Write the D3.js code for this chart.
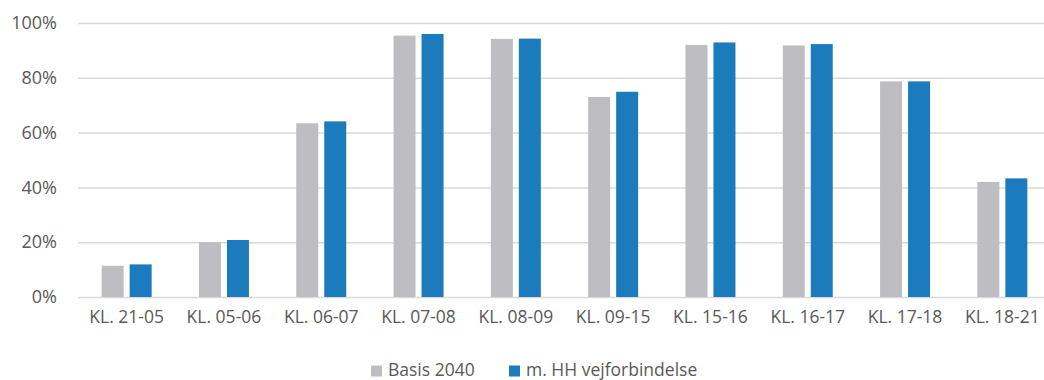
<!DOCTYPE html>
<html>
<head>
<meta charset="utf-8">
<script src="https://cdn.jsdelivr.net/npm/d3@7/dist/d3.min.js"></script>
<style>
	body { margin: 0; background: #fff; }
	text { font-family: "Open Sans", "DejaVu Sans", sans-serif; fill: #595959; }
</style>
</head>
<body>
<div id="graph"></div>
<script>
let width = 1044;
let height = 380;

// Plot area (right edge runs past the picture, as in the original crop)
let padding = {
	top: 23,
	left: 78,
	right: 1051,
	bottom: 297
	};

let categories = ["KL. 21-05", "KL. 05-06", "KL. 06-07", "KL. 07-08", "KL. 08-09",
	"KL. 09-15", "KL. 15-16", "KL. 16-17", "KL. 17-18", "KL. 18-21"];
let seriesNames = ["Basis 2040", "m. HH vejforbindelse"];
let basis = [0.114, 0.200, 0.634, 0.954, 0.942, 0.730, 0.920, 0.918, 0.787, 0.420];
let hhVej = [0.119, 0.208, 0.641, 0.960, 0.943, 0.749, 0.929, 0.923, 0.787, 0.433];
let yTicks = [0, 0.2, 0.4, 0.6, 0.8, 1.0];
let colours = ["#bebec2", "#1c7bbd"];

let seriesValues = [basis, hhVej];

let svg = d3.select("#graph")
	.append("svg")
		.attr("width", width)
		.attr("height", height)
	;

let xScale = d3.scaleBand()
	.domain(categories)
	.range([padding.left, padding.right])
	;

// 22px bars with 6px gap inside each group
let groupWidth = 50;
let xInner = d3.scaleBand()
	.domain(seriesNames)
	.range([0, groupWidth])
	.paddingInner(6 / 28)
	;

let yScale = d3.scaleLinear()
	.domain([0, 1])
	.range([padding.bottom, padding.top])
	;

// Grid + y labels
let yAxis = d3.axisLeft(yScale)
	.tickValues(yTicks)
	.tickSize(-(padding.right - padding.left))
	.tickPadding(21)
	.tickFormat(d3.format(".0%"))
	;

svg.append("g")
	.attr("id", "yAxis")
	.attr("transform", `translate(${padding.left}, 0)`)
	.call(yAxis)
	.call(g => g.select(".domain").remove())
	.call(g => g.selectAll(".tick line")
		.attr("stroke", "#d9d9d9")
		.attr("stroke-width", 1.5))
	.call(g => g.selectAll(".tick text")
		.attr("font-size", "18px")
		.attr("fill", "#595959")
		.attr("font-family", "Open Sans"))
	;

// Bars
let groups = svg.append("g")
	.selectAll("g")
	.data(categories)
	.join("g")
		.attr("transform", d =>
			`translate(${xScale(d) + (xScale.bandwidth() - groupWidth) / 2}, 0)`)
	;

groups.selectAll("rect")
	.data((d, i) => seriesNames.map((s, j) => ({ series: s, value: seriesValues[j][i], idx: j })))
	.join("rect")
		.attr("x", d => xInner(d.series))
		.attr("y", d => yScale(d.value))
		.attr("width", xInner.bandwidth())
		.attr("height", d => yScale(0) - yScale(d.value))
		.attr("fill", d => colours[d.idx])
	;

// X labels
let xAxis = d3.axisBottom(xScale)
	.tickSize(0)
	.tickPadding(14)
	;

svg.append("g")
	.attr("id", "xAxis")
	.attr("transform", `translate(0, ${padding.bottom})`)
	.call(xAxis)
	.call(g => g.select(".domain").remove())
	.call(g => g.selectAll(".tick text")
		.attr("font-size", "17.5px")
		.attr("fill", "#595959")
		.attr("font-family", "Open Sans"))
	;

// Legend
let legendX = [371, 509];
let legend = svg.append("g")
	.selectAll("g")
	.data(seriesNames)
	.join("g")
		.attr("transform", (d, i) => `translate(${legendX[i]}, 365.5)`)
	;
legend.append("rect")
	.attr("width", 11)
	.attr("height", 11)
	.attr("fill", (d, i) => colours[i])
	;
legend.append("text")
	.attr("x", 17)
	.attr("y", 10.5)
	.attr("font-size", "17.5px")
	.text(d => d)
	;
</script>
</body>
</html>
